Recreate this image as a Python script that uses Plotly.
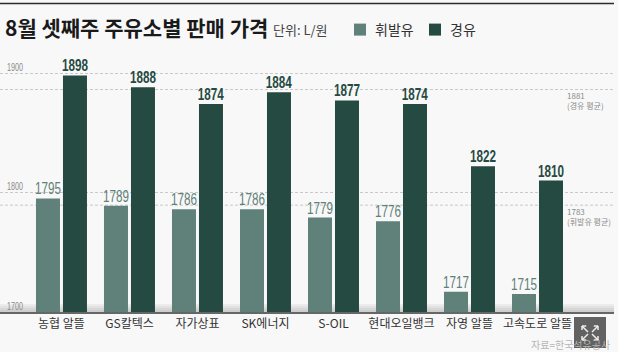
import plotly.graph_objects as go

KR = "Noto Sans CJK KR"
NUM = "Liberation Sans"
W, H = 618, 352

categories = ["농협 알뜰", "GS칼텍스", "자가상표", "SK에너지", "S-OIL", "현대오일뱅크", "자영 알뜰", "고속도로 알뜰"]
gasoline = [1795, 1789, 1786, 1786, 1779, 1776, 1717, 1715]
diesel = [1898, 1888, 1874, 1884, 1877, 1874, 1822, 1810]
y_ticks = [1700, 1800, 1900]
avg_notes = ["1881<br>(경유 평균)", "1783<br>(휘발유 평균)"]
avg_line_levels = [1886.2, 1789.4]   # where the reference draws its dashed lines

LIGHT, DARK, BG = "#5f8179", "#254a41", "#f8f8f8"
GRID = "#c9c9c9"


def px(x):
    return x / W


def py(y):
    return 1 - y / H


fig = go.Figure()
for name, vals, col, wt in [("휘발유", gasoline, LIGHT, "normal"), ("경유", diesel, DARK, "bold")]:
    fig.add_bar(
        name=name, x=categories, y=vals, marker=dict(color=col, line_width=0),
        text=vals, textposition="outside", cliponaxis=False, constraintext="none",
        textfont=dict(family=NUM, size=17, color=col, weight=wt),
        hoverinfo="x+y",
    )

shapes = [
    dict(type="line", xref="paper", yref="y", x0=0, x1=px(614), y0=v, y1=v, layer="below",
         line=dict(color=GRID, width=1, dash="3px,2px"))
    for v in avg_line_levels
]
# soft shadow above the baseline
for top in (304, 306, 308, 310):
    shapes.append(dict(type="rect", xref="paper", yref="paper", x0=0, x1=px(614), y0=py(top), y1=py(312),
                       fillcolor="#777777", opacity=0.09, line_width=0, layer="below"))
shapes.append(dict(type="line", xref="paper", yref="paper", x0=0, x1=px(614), y0=py(3.5), y1=py(3.5),
                   line=dict(color="#2b2b2b", width=1.5)))
# expand button in the bottom-right corner
shapes.append(dict(type="rect", xref="paper", yref="paper", x0=px(574), x1=px(606), y0=py(317), y1=py(348),
                   fillcolor="#555555", line_width=0, opacity=0.92))
for x0, y0, x1, y1 in [(582, 326, 588, 332), (598, 326, 592, 332), (582, 340, 588, 334), (598, 340, 592, 334)]:
    shapes.append(dict(type="line", xref="paper", yref="paper", x0=px(x0), y0=py(y0), x1=px(x1), y1=py(y1),
                       line=dict(color="#eeeeee", width=1.5)))
    shapes.append(dict(type="line", xref="paper", yref="paper", x0=px(x0), y0=py(y0), x1=px(x0 + (3 if x1 > x0 else -3) * 1.4), y1=py(y0),
                       line=dict(color="#eeeeee", width=1.5)))
    shapes.append(dict(type="line", xref="paper", yref="paper", x0=px(x0), y0=py(y0), x1=px(x0), y1=py(y0 + (4 if y1 > y0 else -4)),
                       line=dict(color="#eeeeee", width=1.5)))

annotations = [
    dict(text="단위: L/원", x=px(271), y=py(30), xref="paper", yref="paper", xanchor="left", yanchor="middle",
         showarrow=False, font=dict(family=KR, size=13, color="#444444")),
    dict(text="자료=한국석유공사", x=px(612), y=py(344), xref="paper", yref="paper", xanchor="right", yanchor="middle",
         showarrow=False, font=dict(family=KR, size=10, color="#b5b5b5")),
]
for note, y_px in zip(avg_notes, [101, 216]):
    annotations.append(dict(text=note, x=px(565), y=py(y_px), xref="paper", yref="paper", xanchor="left",
                            yanchor="middle", align="left", showarrow=False,
                            font=dict(family=KR, size=8, color="#8a8a8a")))

fig.update_layout(
    width=W, height=H, margin=dict(l=0, r=0, t=0, b=0), autosize=False,
    paper_bgcolor=BG, plot_bgcolor=BG, barmode="group", bargap=0.206, bargroupgap=0.111,
    title=dict(text="8월 셋째주 주유소별 판매 가격", x=px(5), xanchor="left", xref="paper",
               y=py(29), yanchor="middle", yref="paper",
               font=dict(family=KR, size=21, color="#1a1a1a", weight="bold")),
    showlegend=True,
    legend=dict(orientation="h", x=px(340), y=py(30), xanchor="left", yanchor="middle", entrywidth=30,
                bgcolor="rgba(0,0,0,0)", font=dict(family=KR, size=14, color="#333333"),
                traceorder="normal", itemclick=False, itemdoubleclick=False),
    xaxis=dict(domain=[0, px(614)], range=[-0.904, 8.125], type="category", showgrid=False, zeroline=False,
               showline=True, linecolor="#666666", linewidth=1.5, ticks="", fixedrange=True,
               tickfont=dict(family=KR, size=12, color="#333333")),
    yaxis=dict(domain=[py(312), 1], range=[1700, 1961.1], tickvals=y_ticks, ticklabelposition="inside top",
               showgrid=True, gridcolor=GRID, griddash="3px,2px", gridwidth=1, zeroline=False, showline=False,
               ticks="", fixedrange=True, tickfont=dict(family=NUM, size=10, color="#8a8a8a")),
    shapes=shapes, annotations=annotations,
)
# page margin off; the reference's numerals are condensed, so squeeze the real text horizontally
post = """
document.body.style.margin='0';
function squeeze(sel,len){document.querySelectorAll(sel).forEach(function(t){
  t.setAttribute('textLength',len);t.setAttribute('lengthAdjust','spacingAndGlyphs');});}
squeeze('.bartext',26);
squeeze('.ytick text',16);
document.querySelectorAll('.bartext').forEach(function(t){t.setAttribute('dy',3);});
document.querySelectorAll('.ytick text').forEach(function(t){t.setAttribute('dy',1);t.setAttribute('dx',4);});
document.querySelectorAll('.legendtext').forEach(function(t){t.setAttribute('x',35);});
"""
fig.write_html("out.html", config=dict(displayModeBar=False), post_script=post)
